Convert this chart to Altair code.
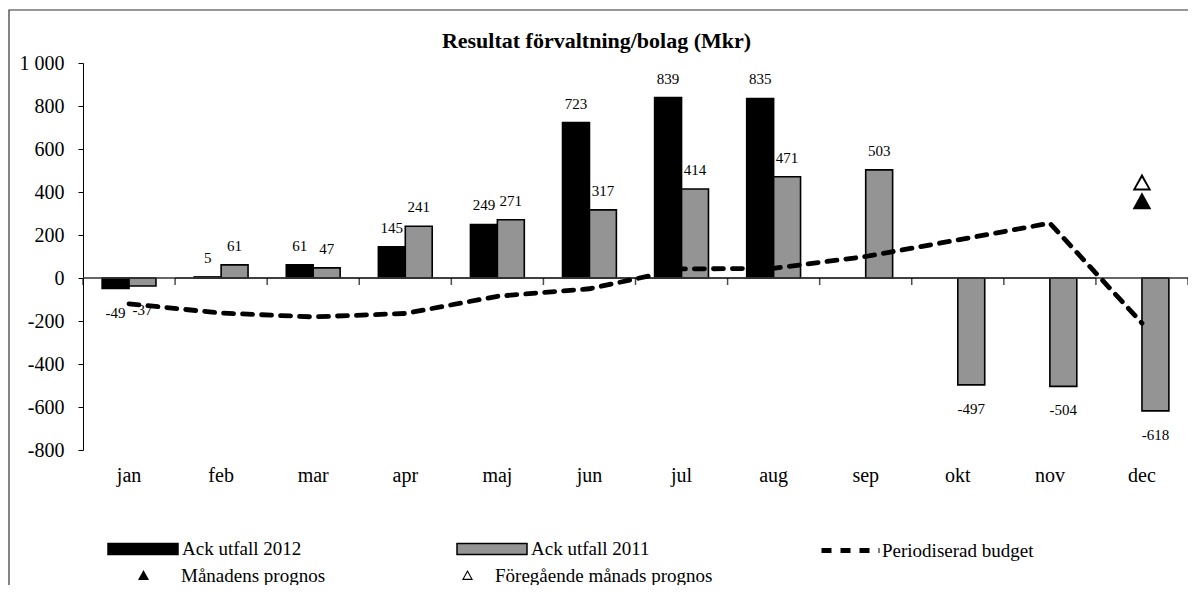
import altair as alt
import pandas as pd

# ---------------- data ----------------
months = ["jan", "feb", "mar", "apr", "maj", "jun", "jul", "aug", "sep", "okt", "nov", "dec"]
utfall_2012 = [-49, 5, 61, 145, 249, 723, 839, 835, None, None, None, None]
utfall_2011 = [-37, 61, 47, 241, 271, 317, 414, 471, 503, -497, -504, -618]
budget = [-120, -163, -181, -165, -85, -50, 42, 45, 100, 177, 255, -210]
series_names = ["Ack utfall 2012", "Ack utfall 2011"]
budget_name = "Periodiserad budget"
prognos_now_name = "Månadens prognos"
prognos_prev_name = "Föregående månads prognos"
prognos_month = ["dec"]
prognos_now = [355]
prognos_prev = [442]
y_ticks = [-800, -600, -400, -200, 0, 200, 400, 600, 800, 1000]

# ---------------- tables ----------------
rows = []
for m, a, b in zip(months, utfall_2012, utfall_2011):
    if a is not None:
        rows.append({"month": m, "series": series_names[0], "value": a})
    if b is not None:
        rows.append({"month": m, "series": series_names[1], "value": b})
df_bars = pd.DataFrame(rows)
df_budget = pd.DataFrame({"month": months, "value": budget, "name": budget_name})
df_now = pd.DataFrame({"month": prognos_month, "value": prognos_now, "typ": prognos_now_name})
df_prev = pd.DataFrame({"month": prognos_month, "value": prognos_prev, "typ": prognos_prev_name})
df_months = pd.DataFrame({"month": months, "value": [0] * len(months)})

W, H = 1105, 387
YMIN, YMAX = -800, 1000
FONT = "Liberation Serif"

x_scale = alt.Scale(paddingInner=0, paddingOuter=0)
y_scale = alt.Scale(domain=[YMIN, YMAX], nice=False)
xoff = alt.XOffset("series:N", sort=series_names,
                   scale=alt.Scale(paddingInner=0, paddingOuter=0.71))

x_axis = alt.Axis(orient="bottom", domain=False, ticks=False, labelPadding=15,
                  labelAngle=0, labelFont=FONT, labelFontSize=20, labelColor="black",
                  title=None)

y_axis = alt.Axis(values=y_ticks, tickSize=5, labelPadding=14, grid=False,
                  labelExpr="abs(datum.value) >= 1000 ? replace(format(datum.value, ','), ',', ' ') : '' + datum.value",
                  labelFont=FONT, labelFontSize=20, labelColor="black",
                  domainColor="black", tickColor="black", title=None)

X = alt.X("month:N", sort=months, scale=x_scale, axis=x_axis)
Y = alt.Y("value:Q", scale=y_scale, axis=y_axis)

tri_fill = "M0,-1L1,0.8L-1,0.8Z"
tri_open = "M0,-1L1,0.8L-1,0.8Z M0,-0.57L-0.66,0.6L0.66,0.6Z"

legend_text = dict(labelFont=FONT, labelFontSize=19, labelColor="black",
                   labelLimit=400, padding=0, title=None, orient="none")

# frame around chart area
frame = alt.Chart(pd.DataFrame({"a": [0]})).mark_rect(
    fill="transparent", stroke="#333", strokeWidth=1.2
).encode(
    x=alt.value(-74), x2=alt.value(W + 100),
    y=alt.value(-53), y2=alt.value(H + 300)
)

# horizontal category axis line on the zero value (two solid lines covering band starts and ends)
zero_line_a = alt.Chart(df_months).mark_line(color="#333", strokeWidth=1.3).encode(
    x=alt.X("month:N", sort=months, scale=x_scale, axis=x_axis, bandPosition=0),
    y=Y,
)
zero_line_b = alt.Chart(df_months).mark_line(color="#333", strokeWidth=1.3).encode(
    x=alt.X("month:N", sort=months, scale=x_scale, axis=x_axis, bandPosition=1),
    y=Y,
)
# small ticks between the months
zero_ticks = alt.Chart(df_months).mark_tick(
    orient="vertical", size=7, thickness=1.5, color="black", yOffset=3.5
).encode(
    x=alt.X("month:N", sort=months, scale=x_scale, axis=x_axis, bandPosition=0),
    y=Y,
)
end_tick = alt.Chart(df_months).transform_filter(
    alt.datum.month == months[-1]
).mark_tick(
    orient="vertical", size=7, thickness=1.5, color="black", yOffset=3.5
).encode(
    x=alt.X("month:N", sort=months, scale=x_scale, axis=x_axis, bandPosition=1),
    y=Y,
)

bars = alt.Chart(df_bars).mark_bar(stroke="black", strokeWidth=1.6).encode(
    x=X,
    xOffset=xoff,
    y=Y,
    fill=alt.Fill("series:N", sort=series_names,
                  scale=alt.Scale(domain=series_names, range=["black", "#949494"]),
                  legend=alt.Legend(legendX=24, legendY=450,
                                    direction="horizontal", columns=2, columnPadding=152,
                                    symbolType="M-1,-0.16H1V0.16H-1Z", symbolSize=4900,
                                    symbolStrokeColor="black", symbolStrokeWidth=1.5,
                                    labelOffset=3, **legend_text)),
)

line = alt.Chart(df_budget).mark_line(color="black", strokeWidth=4.8, strokeCap="round").encode(
    x=X,
    y=Y,
    strokeDash=alt.StrokeDash("name:N",
                              scale=alt.Scale(domain=[budget_name], range=[[10, 9]]),
                              legend=alt.Legend(legendX=736, legendY=456,
                                                symbolSize=3364, symbolStrokeWidth=4.8,
                                                symbolStrokeColor="black",
                                                labelOffset=0, **legend_text)),
)

points_now = alt.Chart(df_now).mark_point(filled=True, color="black", size=350, opacity=1).encode(
    x=X,
    y=Y,
    shape=alt.Shape("typ:N",
                    scale=alt.Scale(domain=[prognos_now_name], range=[tri_fill]),
                    legend=alt.Legend(legendX=51, legendY=503,
                                      symbolSize=121, symbolFillColor="black",
                                      symbolStrokeWidth=0,
                                      labelOffset=28, **legend_text)),
)

points_prev = alt.Chart(df_prev).mark_point(filled=True, color="black", size=350,
                                            shape=tri_open).encode(
    x=X,
    y=Y,
    opacity=alt.Opacity("typ:N",
                        scale=alt.Scale(domain=[prognos_prev_name], range=[1]),
                        legend=alt.Legend(legendX=375, legendY=503,
                                          symbolType=tri_open, symbolSize=121,
                                          symbolFillColor="black", symbolStrokeWidth=0,
                                          labelOffset=18, **legend_text)),
)

label_base = alt.Chart(df_bars).transform_calculate(label="'' + datum.value")

labels_pos = label_base.transform_filter("datum.value >= 0").mark_text(
    font=FONT, fontSize=15, color="black", baseline="alphabetic", dy=-14
).encode(x=X, xOffset=xoff, y=Y, text="label:N")

labels_neg = label_base.transform_filter("datum.value < 0").mark_text(
    font=FONT, fontSize=15, color="black", baseline="top", dy=17
).encode(x=X, xOffset=xoff, y=Y, text="label:N")

chart = alt.layer(frame, bars, zero_line_a, zero_line_b, zero_ticks, end_tick, line,
                  points_now, points_prev, labels_pos, labels_neg).properties(
    width=W, height=H,
    autosize=alt.AutoSizeParams(type="none"),
    padding={"left": 75, "top": 55, "right": 0, "bottom": 135},
    background="white",
    title=alt.TitleParams("Resultat förvaltning/bolag (Mkr)", font=FONT, fontSize=22,
                          fontWeight="bold", color="black", anchor="middle",
                          frame="group", dx=-39, offset=-44),
).configure_view(stroke=None)

chart.save("out.html", embed_options={"renderer": "svg", "actions": False})
